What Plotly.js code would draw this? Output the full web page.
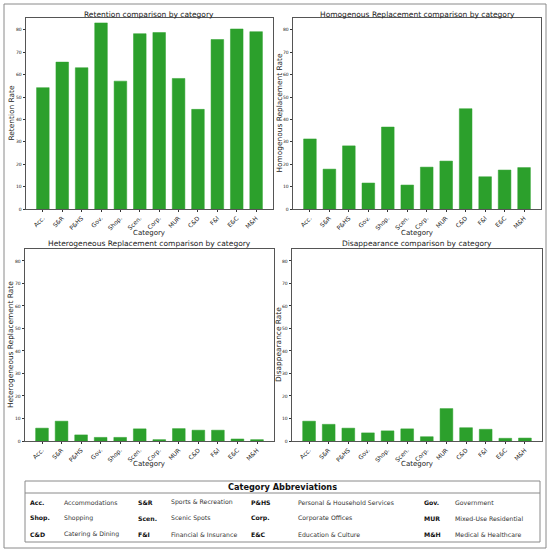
<!DOCTYPE html>
<html>
<head>
<meta charset="utf-8">
<script src="https://cdn.plot.ly/plotly-3.0.1.min.js"></script>
<style>
  html, body { margin: 0; padding: 0; background: #ffffff; }
  #chart { width: 550px; height: 552px; }
</style>
</head>
<body>
<div id="chart"></div>
<script>
const categories = ["Acc.", "S&R", "P&HS", "Gov.", "Shop.", "Scen.", "Corp.", "MUR", "C&D", "F&I", "E&C", "M&H"];
const retention = [54.2, 65.6, 63.1, 83.1, 57.1, 78.3, 78.8, 58.3, 44.5, 75.7, 80.4, 79.2];
const homogenous = [31.3, 17.8, 28.2, 11.6, 36.6, 10.7, 18.7, 21.4, 44.8, 14.4, 17.4, 18.5];
const heterogeneous = [5.7, 8.8, 2.7, 1.6, 1.6, 5.4, 0.6, 5.5, 4.8, 4.8, 0.9, 0.6];
const disappearance = [8.8, 7.4, 5.7, 3.6, 4.5, 5.4, 1.9, 14.4, 5.9, 5.2, 1.2, 1.3];
const panelTitles = ["Retention comparison by category", "Homogenous Replacement comparison by category",
                     "Heterogeneous Replacement comparison by category", "Disappearance comparison by category"];
const yTitles = ["Retention Rate", "Homogenous Replacement Rate", "Heterogeneous Replacement Rate", "Disappearance Rate"];
const xTitle = "Category";
const yTicks = [0, 10, 20, 30, 40, 50, 60, 70, 80];
const tableTitle = "Category Abbreviations";
const abbrRows = [["Acc.", "S&R", "P&HS", "Gov."], ["Shop.", "Scen.", "Corp.", "MUR"], ["C&D", "F&I", "E&C", "M&H"]];
const nameRows = [["Accommodations", "Sports & Recreation", "Personal & Household Services", "Government"],
                  ["Shopping", "Scenic Spots", "Corporate Offices", "Mixed-Use Residential"],
                  ["Catering & Dining", "Financial & Insurance", "Education & Culture", "Medical & Healthcare"]];

const W = 550, H = 552;
const px = v => v / W;
const py = v => 1 - v / H;
const FONT = "DejaVu Sans";
const GREEN = "#2ca02c";
const series = [retention, homogenous, heterogeneous, disappearance];

// panel boxes in pixels [x0, x1, yTop, yBottom]
const boxes = [[26, 273, 18, 209], [293, 541, 18, 209], [25, 274, 249, 441], [292, 542, 249, 441]];
const yTitleX = [11, 279, 10, 278];
const xTitleY = [233, 233, 464, 464];
const panelTitleY = [14, 14, 244, 244];

const traces = series.map((vals, i) => ({
  type: "bar",
  x: categories,
  y: vals,
  width: 0.65,
  marker: { color: GREEN, line: { color: GREEN, width: 0.5 } },
  xaxis: i === 0 ? "x" : "x" + (i + 1),
  yaxis: i === 0 ? "y" : "y" + (i + 1),
  hoverinfo: "x+y",
  showlegend: false
}));

const layout = {
  width: W, height: H,
  margin: { l: 0, r: 0, t: 0, b: 0 },
  paper_bgcolor: "#ffffff",
  plot_bgcolor: "#ffffff",
  font: { family: FONT, color: "#222" },
  showlegend: false,
  annotations: [],
  shapes: []
};

boxes.forEach((b, i) => {
  const xa = i === 0 ? "xaxis" : "xaxis" + (i + 1);
  const ya = i === 0 ? "yaxis" : "yaxis" + (i + 1);
  const yid = i === 0 ? "y" : "y" + (i + 1);
  const xid = i === 0 ? "x" : "x" + (i + 1);
  layout[xa] = {
    domain: [px(b[0]), px(b[1])],
    anchor: yid,
    type: "category",
    range: [-0.87, 11.87],
    tickangle: -45,
    tickfont: { size: 6, family: FONT, color: "#222" },
    ticks: "outside", ticklen: 2.5, tickwidth: 0.6, tickcolor: "#333",
    showline: true, linecolor: "#555", linewidth: 0.8, mirror: true,
    showgrid: false, zeroline: false
  };
  layout[ya] = {
    domain: [py(b[3]), py(b[2])],
    anchor: xid,
    range: [0, 85.3],
    tickvals: yTicks,
    tickfont: { size: 4.5, family: FONT, color: "#222" },
    ticks: "outside", ticklen: 2.5, tickwidth: 0.6, tickcolor: "#333",
    showline: true, linecolor: "#555", linewidth: 0.8, mirror: true,
    showgrid: false, zeroline: false
  };
  layout.annotations.push({
    xref: "paper", yref: "paper",
    x: px((b[0] + b[1]) / 2), y: py(panelTitleY[i]),
    xanchor: "center", yanchor: "middle",
    text: panelTitles[i], showarrow: false,
    font: { size: 7.5, family: FONT, color: "#222" }
  });
  layout.annotations.push({
    xref: "paper", yref: "paper",
    x: px((b[0] + b[1]) / 2), y: py(xTitleY[i]),
    xanchor: "center", yanchor: "middle",
    text: xTitle, showarrow: false,
    font: { size: 7, family: FONT, color: "#222" }
  });
  layout.annotations.push({
    xref: "paper", yref: "paper",
    x: px(yTitleX[i]), y: py((b[2] + b[3]) / 2),
    xanchor: "center", yanchor: "middle", textangle: -90,
    text: yTitles[i], showarrow: false,
    font: { size: 7.4, family: FONT, color: "#222" }
  });
});

// outer frame
layout.shapes.push({ type: "rect", xref: "paper", yref: "paper",
  x0: px(4), x1: px(546), y0: py(548), y1: py(4),
  line: { color: "#8a8a8a", width: 1 }, fillcolor: "rgba(0,0,0,0)" });
// table frame
layout.shapes.push({ type: "rect", xref: "paper", yref: "paper",
  x0: px(25), x1: px(540), y0: py(542), y1: py(481),
  line: { color: "#8a8a8a", width: 1 }, fillcolor: "rgba(0,0,0,0)" });
layout.shapes.push({ type: "line", xref: "paper", yref: "paper",
  x0: px(25), x1: px(540), y0: py(493), y1: py(493),
  line: { color: "#8a8a8a", width: 1 } });

layout.annotations.push({
  xref: "paper", yref: "paper", x: px(282.5), y: py(487), xanchor: "center", yanchor: "middle",
  text: "<b>" + tableTitle + "</b>", showarrow: false,
  font: { size: 8.2, family: FONT, color: "#111" }
});

const abbrX = [28, 136, 249, 422];
const nameX = [62, 169, 296, 453];
const rowY = [502, 518, 534];
abbrRows.forEach((row, r) => {
  row.forEach((ab, c) => {
    layout.annotations.push({
      xref: "paper", yref: "paper", x: px(abbrX[c]), y: py(rowY[r]), xanchor: "left", yanchor: "middle",
      text: "<b>" + ab.replace(/&/g, "&amp;") + "</b>", showarrow: false,
      font: { size: 6.2, family: FONT, color: "#111" }
    });
    layout.annotations.push({
      xref: "paper", yref: "paper", x: px(nameX[c]), y: py(rowY[r]), xanchor: "left", yanchor: "middle",
      text: nameRows[r][c].replace(/&/g, "&amp;"), showarrow: false,
      font: { size: 6.2, family: FONT, color: "#333" }
    });
  });
});

Plotly.newPlot("chart", traces, layout, { displayModeBar: false, responsive: false });
</script>
</body>
</html>
